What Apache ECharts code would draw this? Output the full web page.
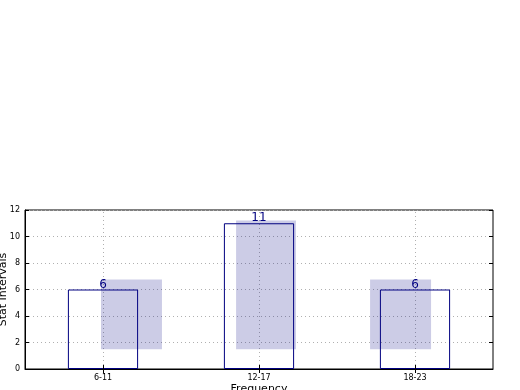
<!DOCTYPE html>
<html>
<head>
<meta charset="utf-8">
<script src="https://cdn.jsdelivr.net/npm/echarts@6/dist/echarts.min.js"></script>
<style>html,body{margin:0;padding:0;background:#fff}#c{width:520px;height:390px}</style>
</head>
<body>
<div id="c"></div>
<script>
var categories = ['6-11', '12-17', '18-23'];
var counts = [6, 11, 6];
var intervalLow = [1.5, 1.5, 1.5];
var intervalHigh = [6.75, 11.2, 6.75];
// left/right edge of each shaded interval, relative to the category centre (in category widths)
var intervalStart = [-0.013, -0.147, -0.288];
var intervalEnd = [0.378, 0.237, 0.103];
var yTicks = [0, 2, 4, 6, 8, 10, 12];

var rectData = categories.map(function (c, i) {
  return [i, intervalLow[i], intervalHigh[i], intervalStart[i], intervalEnd[i]];
});

var chart = echarts.init(document.getElementById('c'), null, {renderer: 'canvas'});
var font = 'DejaVu Sans';
var gridLine = {color: '#b0b0b0', type: [1, 3], width: 1};
chart.setOption({
  animation: false,
  textStyle: {fontFamily: font},
  grid: {left: 25, right: 27, top: 210, bottom: 21, show: true, borderColor: '#000', borderWidth: 1,
    containLabel: false, outerBoundsMode: 'none'},
  xAxis: [{
    type: 'category', data: categories, boundaryGap: true, z: 10,
    name: 'Frequency', nameLocation: 'middle', nameGap: 15, nameMoveOverlap: false,
    nameTextStyle: {color: '#000', fontSize: 11, fontFamily: font},
    axisLine: {show: true, lineStyle: {color: '#000'}},
    axisTick: {show: true, inside: true, alignWithLabel: true, length: 4, lineStyle: {color: '#000'}},
    axisLabel: {color: '#000', fontSize: 8, margin: 5, fontFamily: font},
    splitLine: {show: false}
  }, {
    type: 'category', data: categories, boundaryGap: true, position: 'top',
    axisLine: {show: false},
    axisTick: {show: true, inside: true, alignWithLabel: true, length: 4, lineStyle: {color: '#000'}},
    axisLabel: {show: false}, splitLine: {show: false}
  }],
  yAxis: [{
    type: 'value', min: 0, max: 12, interval: 2,
    name: 'Stat Intervals', nameLocation: 'middle', nameGap: 16, nameRotate: 90, nameMoveOverlap: false,
    nameTextStyle: {color: '#000', fontSize: 11, fontFamily: font},
    axisLine: {show: true, lineStyle: {color: '#000'}},
    axisTick: {show: true, inside: true, length: 4, lineStyle: {color: '#000'}},
    axisLabel: {color: '#000', fontSize: 8, margin: 5, fontFamily: font,
      formatter: function (v) { return yTicks.indexOf(v) >= 0 ? String(v) : ''; }},
    splitLine: {show: true, lineStyle: gridLine}
  }, {
    type: 'value', min: 0, max: 12, interval: 2, position: 'right',
    axisLine: {show: false},
    axisTick: {show: true, inside: true, length: 4, lineStyle: {color: '#000'}},
    axisLabel: {show: false}, splitLine: {show: false}
  }],
  series: [{
    type: 'custom',
    z: 1,
    renderItem: function (params, api) {
      var center = api.coord([api.value(0), 0])[0];
      var band = api.size([1, 0])[0];
      var lo = api.coord([api.value(0), api.value(1)])[1];
      var hi = api.coord([api.value(0), api.value(2)])[1];
      var x0 = center + api.value(3) * band;
      var x1 = center + api.value(4) * band;
      return {
        type: 'rect',
        shape: {x: x0, y: hi, width: x1 - x0, height: lo - hi},
        style: {fill: 'rgba(0,0,128,0.2)'}
      };
    },
    data: rectData
  }, {
    type: 'bar',
    z: 3,
    data: counts,
    barWidth: '45%',
    itemStyle: {color: 'rgba(0,0,0,0)', borderColor: '#000080', borderWidth: 1},
    label: {show: true, position: 'top', distance: -1, color: '#000080', fontSize: 12, fontFamily: font},
    markLine: {
      silent: true, symbol: 'none', z: 0,
      label: {show: false},
      lineStyle: gridLine,
      data: categories.map(function (c) { return {xAxis: c}; })
    }
  }]
});
</script>
</body>
</html>
